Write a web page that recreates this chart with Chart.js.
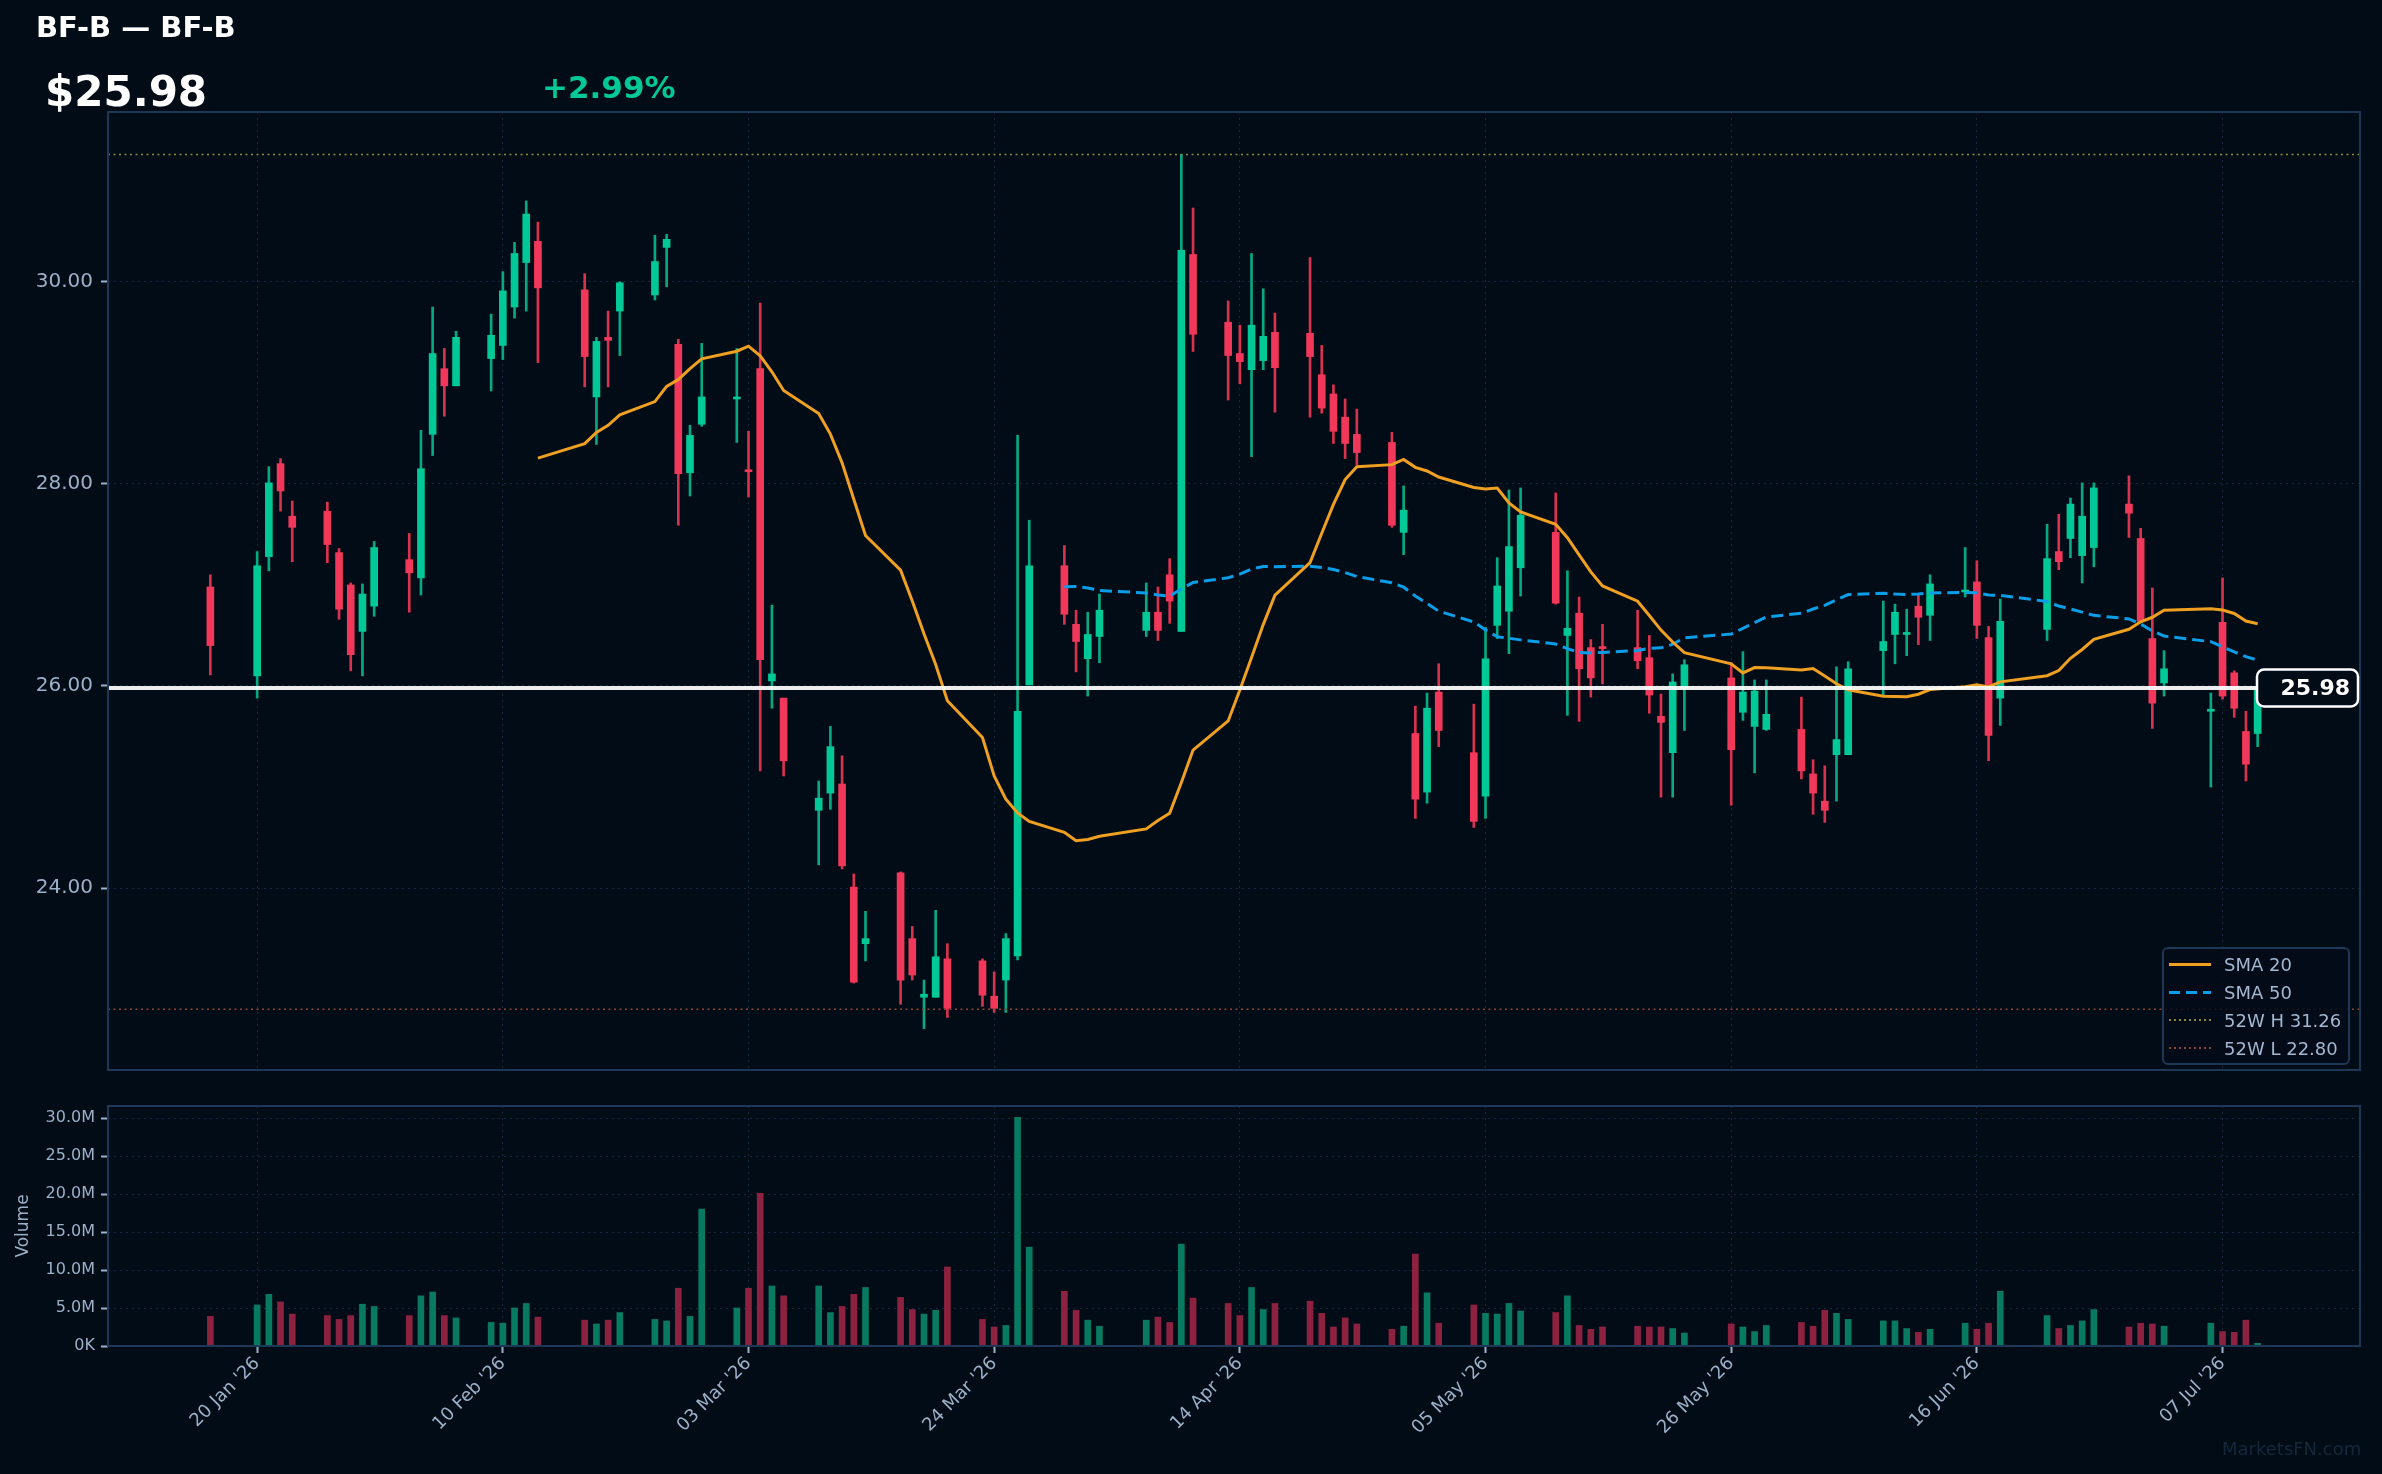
<!DOCTYPE html>
<html>
<head>
<meta charset="utf-8">
<script src="https://cdn.jsdelivr.net/npm/chart.js@4.4.1/dist/chart.umd.min.js"></script>
<style>
  html, body { margin: 0; padding: 0; background: #020c17; }
  #wrap { position: relative; width: 2382px; height: 1474px; overflow: hidden; background: #020c17; font-family: 'DejaVu Sans', sans-serif; }
  canvas { position: absolute; left: 0; }
  #priceCanvas { top: 0; }
  #volCanvas { top: 1090px; }
  .txt { position: absolute; white-space: nowrap; line-height: 1; font-weight: bold; }
  #title { left: 36px; top: 13px; font-size: 29px; color: #ffffff; }
  #price { left: 45px; top: 71px; font-size: 42px; color: #ffffff; }
  #change { left: 542px; top: 72px; font-size: 31px; color: #00c896; }
  #legend { position: absolute; left: 2162px; top: 947px; width: 188px; height: 118px; border: 2px solid #1d3856; border-radius: 6px; background: rgba(2, 12, 23, 0.85); box-sizing: border-box; padding-top: 1px; }
  .row { height: 28px; display: flex; align-items: center; font-size: 18px; color: #a3b7d0; }
  .sw { width: 42px; margin-left: 5px; margin-right: 13px; }
  #watermark { position: absolute; left: 2222px; top: 1440px; font-size: 18px; color: #17283a; line-height: 1; }
</style>
</head>
<body>
<div id="wrap">
  <canvas id="priceCanvas" width="2382" height="1090"></canvas>
  <canvas id="volCanvas" width="2382" height="384"></canvas>
  <div class="txt" id="title">BF-B — BF-B</div>
  <div class="txt" id="price">$25.98</div>
  <div class="txt" id="change">+2.99%</div>
  <div id="legend">
    <div class="row"><span class="sw" style="height:3px;background:#f0a020"></span>SMA 20</div>
    <div class="row"><span class="sw" style="height:3px;background:repeating-linear-gradient(90deg,#0a9ee8 0 11px,transparent 11px 17px)"></span>SMA 50</div>
    <div class="row"><span class="sw" style="height:2px;background:repeating-linear-gradient(90deg,#8c8a35 0 2px,transparent 2px 5px)"></span>52W H 31.26</div>
    <div class="row"><span class="sw" style="height:2px;background:repeating-linear-gradient(90deg,#8e4535 0 2px,transparent 2px 5px)"></span>52W L 22.80</div>
  </div>
  <div id="watermark">MarketsFN.com</div>
</div>
<script>
// trading days
const dates = [
  '2026-01-16','2026-01-20','2026-01-21','2026-01-22','2026-01-23',
  '2026-01-26','2026-01-27','2026-01-28','2026-01-29','2026-01-30',
  '2026-02-02','2026-02-03','2026-02-04','2026-02-05','2026-02-06',
  '2026-02-09','2026-02-10','2026-02-11','2026-02-12','2026-02-13',
  '2026-02-17','2026-02-18','2026-02-19','2026-02-20',
  '2026-02-23','2026-02-24','2026-02-25','2026-02-26','2026-02-27',
  '2026-03-02','2026-03-03','2026-03-04','2026-03-05','2026-03-06',
  '2026-03-09','2026-03-10','2026-03-11','2026-03-12','2026-03-13',
  '2026-03-16','2026-03-17','2026-03-18','2026-03-19','2026-03-20',
  '2026-03-23','2026-03-24','2026-03-25','2026-03-26','2026-03-27',
  '2026-03-30','2026-03-31','2026-04-01','2026-04-02',
  '2026-04-06','2026-04-07','2026-04-08','2026-04-09','2026-04-10',
  '2026-04-13','2026-04-14','2026-04-15','2026-04-16','2026-04-17',
  '2026-04-20','2026-04-21','2026-04-22','2026-04-23','2026-04-24',
  '2026-04-27','2026-04-28','2026-04-29','2026-04-30','2026-05-01',
  '2026-05-04','2026-05-05','2026-05-06','2026-05-07','2026-05-08',
  '2026-05-11','2026-05-12','2026-05-13','2026-05-14','2026-05-15',
  '2026-05-18','2026-05-19','2026-05-20','2026-05-21','2026-05-22',
  '2026-05-26','2026-05-27','2026-05-28','2026-05-29',
  '2026-06-01','2026-06-02','2026-06-03','2026-06-04','2026-06-05',
  '2026-06-08','2026-06-09','2026-06-10','2026-06-11','2026-06-12',
  '2026-06-15','2026-06-16','2026-06-17','2026-06-18',
  '2026-06-22','2026-06-23','2026-06-24','2026-06-25','2026-06-26',
  '2026-06-29','2026-06-30','2026-07-01','2026-07-02',
  '2026-07-06','2026-07-07','2026-07-08','2026-07-09','2026-07-10'
];

const opens = [
  26.98, 26.10, 27.28, 28.20, 27.68,
  27.73, 27.32, 27.00, 26.54, 26.79,
  27.25, 27.07, 28.49, 29.14, 28.97,
  29.24, 29.37, 29.75, 30.19, 30.40,
  29.92, 28.86, 29.45, 29.71,
  29.87, 30.34, 29.38, 28.11, 28.59,
  28.84, 28.14, 29.14, 26.05, 25.88,
  24.77, 24.94, 25.03, 24.01, 23.45,
  24.15, 23.50, 22.92, 22.92, 23.30,
  23.28, 22.93, 23.09, 23.33, 26.01,
  27.19, 26.61, 26.27, 26.49,
  26.55, 26.73, 27.10, 26.54, 30.27,
  29.60, 29.29, 29.13, 29.22, 29.50,
  29.49, 29.08, 28.89, 28.66, 28.49,
  28.41, 27.52, 25.53, 24.95, 25.94,
  25.34, 24.91, 26.60, 26.74, 27.17,
  27.52, 26.50, 26.72, 26.38, 26.39,
  26.38, 26.28, 25.70, 25.34, 25.98,
  26.08, 25.74, 25.60, 25.57,
  25.57, 25.13, 24.86, 25.32, 25.32,
  26.35, 26.51, 26.51, 26.79, 26.70,
  26.93, 27.03, 26.48, 25.88,
  26.56, 27.33, 27.46, 27.29, 27.37,
  27.80, 27.46, 26.47, 26.03,
  25.75, 26.63, 26.13, 25.55, 25.53
];

const highs = [
  27.10, 27.33, 28.17, 28.25, 27.83,
  27.82, 27.36, 27.02, 27.01, 27.43,
  27.51, 28.53, 29.75, 29.34, 29.51,
  29.68, 30.10, 30.39, 30.80, 30.59,
  30.08, 29.45, 29.71, 30.00,
  30.46, 30.47, 29.43, 28.58, 29.39,
  29.34, 28.52, 29.79, 26.80, 25.88,
  25.06, 25.60, 25.31, 24.14, 23.77,
  24.16, 23.62, 23.09, 23.78, 23.45,
  23.30, 23.17, 23.55, 28.48, 27.64,
  27.39, 26.75, 26.73, 26.91,
  27.02, 26.98, 27.26, 31.26, 30.73,
  29.81, 29.57, 30.28, 29.93, 29.69,
  30.24, 29.37, 28.98, 28.84, 28.74,
  28.51, 27.98, 25.80, 25.93, 26.22,
  25.82, 26.58, 27.27, 27.94, 27.96,
  27.91, 27.14, 26.88, 26.46, 26.61,
  26.75, 26.50, 25.92, 26.12, 26.26,
  26.23, 26.34, 26.06, 26.06,
  25.89, 25.27, 25.21, 26.19, 26.24,
  26.84, 26.81, 26.76, 26.90, 27.10,
  27.37, 27.24, 26.59, 26.86,
  27.60, 27.70, 27.86, 28.01, 28.01,
  28.08, 27.56, 26.97, 26.35,
  25.93, 27.07, 26.15, 25.75, 26.04
];

const lows = [
  26.11, 25.88, 27.14, 27.73, 27.23,
  27.22, 26.66, 26.15, 26.10, 26.69,
  26.73, 26.90, 28.28, 28.67, 28.97,
  28.92, 29.23, 29.64, 29.71, 29.20,
  28.96, 28.39, 28.96, 29.27,
  29.82, 29.95, 27.59, 27.88, 28.57,
  28.41, 27.87, 25.16, 25.78, 25.11,
  24.23, 24.78, 24.19, 23.06, 23.28,
  22.85, 23.09, 22.61, 22.92, 22.72,
  22.83, 22.77, 22.77, 23.29, 26.01,
  26.61, 26.14, 25.90, 26.23,
  26.49, 26.45, 26.62, 26.54, 29.31,
  28.83, 28.99, 28.27, 29.13, 28.71,
  28.66, 28.70, 28.40, 28.25, 28.19,
  27.57, 27.30, 24.69, 24.84, 25.40,
  24.60, 24.69, 26.47, 26.32, 26.89,
  26.81, 25.71, 25.65, 25.89, 26.02,
  26.17, 25.73, 24.90, 24.90, 25.56,
  24.82, 25.66, 25.14, 25.56,
  25.08, 24.73, 24.65, 24.86, 25.32,
  25.91, 26.22, 26.30, 26.41, 26.45,
  26.88, 26.47, 25.26, 25.61,
  26.45, 27.15, 27.27, 27.02, 27.18,
  27.47, 26.64, 25.58, 25.90,
  25.00, 25.87, 25.69, 25.06, 25.40
];

const closes = [
  26.40, 27.19, 28.01, 27.93, 27.57,
  27.40, 26.76, 26.31, 26.91, 27.37,
  27.12, 28.15, 29.29, 28.97, 29.45,
  29.47, 29.91, 30.28, 30.67, 29.94,
  29.26, 29.41, 29.42, 29.99,
  30.20, 30.42, 28.10, 28.48, 28.86,
  28.86, 28.12, 26.26, 26.12, 25.26,
  24.89, 25.40, 24.22, 23.07, 23.50,
  23.09, 23.14, 22.95, 23.32, 22.81,
  22.94, 22.81, 23.50, 25.75, 27.19,
  26.71, 26.44, 26.51, 26.75,
  26.73, 26.55, 26.84, 30.31, 29.48,
  29.27, 29.21, 29.57, 29.46, 29.15,
  29.26, 28.75, 28.52, 28.40, 28.31,
  27.59, 27.74, 24.88, 25.78, 25.56,
  24.66, 26.27, 26.99, 27.38, 27.69,
  26.82, 26.57, 26.17, 26.08, 26.37,
  26.25, 25.91, 25.64, 26.04, 26.21,
  25.37, 25.94, 25.95, 25.72,
  25.16, 24.94, 24.77, 25.47, 26.17,
  26.44, 26.73, 26.53, 26.68, 27.01,
  26.94, 26.60, 25.51, 26.64,
  27.26, 27.23, 27.80, 27.68, 27.96,
  27.71, 26.64, 25.83, 26.17,
  25.76, 25.90, 25.78, 25.226, 25.98
];

// volume in millions of shares
const volumes = [
  3.9, 5.4, 6.8, 5.8, 4.2,
  4.0, 3.5, 4.0, 5.5, 5.2,
  4.0, 6.6, 7.1, 4.0, 3.7,
  3.1, 3.0, 5.0, 5.6, 3.8,
  3.4, 2.9, 3.4, 4.4,
  3.5, 3.3, 7.6, 3.9, 18.0,
  5.0, 7.6, 20.1, 7.9, 6.6,
  7.9, 4.4, 5.2, 6.8, 7.7,
  6.4, 4.8, 4.2, 4.7, 10.4,
  3.5, 2.5, 2.7, 30.08, 13.0,
  7.2, 4.7, 3.4, 2.6,
  3.4, 3.8, 3.1, 13.4, 6.3,
  5.6, 4.0, 7.7, 4.8, 5.6,
  5.9, 4.3, 2.5, 3.7, 2.9,
  2.2, 2.6, 12.1, 7.0, 3.0,
  5.4, 4.3, 4.2, 5.6, 4.6,
  4.4, 6.6, 2.7, 2.2, 2.5,
  2.6, 2.5, 2.5, 2.3, 1.7,
  2.9, 2.5, 1.9, 2.7,
  3.1, 2.6, 4.7, 4.3, 3.5,
  3.3, 3.3, 2.3, 1.8, 2.2,
  3.0, 2.2, 3.0, 7.2,
  4.0, 2.3, 2.7, 3.3, 4.8,
  2.5, 3.0, 2.9, 2.6,
  3.0, 1.9, 1.8, 3.4, 0.35
];

const tickDates = ['2026-01-20', '2026-02-10', '2026-03-03', '2026-03-24', '2026-04-14', '2026-05-05', '2026-05-26', '2026-06-16', '2026-07-07'];
const tickLabels = ["20 Jan '26", "10 Feb '26", "03 Mar '26", "24 Mar '26", "14 Apr '26", "05 May '26", "26 May '26", "16 Jun '26", "07 Jul '26"];
const priceTicks = [24, 26, 28, 30];
const volumeTicks = [0, 5, 10, 15, 20, 25, 30];
const high52 = 31.26;
const low52 = 22.80;

const UP = '#00c896', DOWN = '#f2385a';
const UP_WICK = '#06a982', DOWN_WICK = '#d9324f';
const VOL_UP = '#077a5f', VOL_DOWN = '#8c2240';
const GRID = 'rgba(60, 95, 135, 0.35)';
const TICK = '#9cb0c8';

Chart.defaults.font.family = "'DejaVu Sans', sans-serif";
Chart.defaults.color = TICK;

// calendar day offset from 20 Jan 2026
function dayNum(s) {
  const p = s.split('-').map(Number);
  return (Date.UTC(p[0], p[1] - 1, p[2]) - Date.UTC(2026, 0, 20)) / 86400000;
}

const xs = dates.map(dayNum);
const span = xs[xs.length - 1] - xs[0];
const xMin = xs[0] - span * 0.05;
const xMax = xs[xs.length - 1] + span * 0.05;
const tickXs = tickDates.map(dayNum);
const lastClose = closes[closes.length - 1];
const isUp = closes.map((c, i) => c >= opens[i]);

function sma(n) {
  const out = [];
  for (let i = n - 1; i < closes.length; i++) {
    let s = 0;
    for (let j = i - n + 1; j <= i; j++) s += closes[j];
    out.push({ x: xs[i], y: s / n });
  }
  return out;
}

// frame round the plot area
const frame = {
  id: 'frame',
  afterDraw(chart) {
    const { ctx, chartArea: a } = chart;
    ctx.save();
    ctx.strokeStyle = '#1d3856';
    ctx.lineWidth = 2;
    ctx.strokeRect(a.left, a.top, a.right - a.left, a.bottom - a.top);
    ctx.restore();
  }
};

// last price tag on the right edge
const lastTag = {
  id: 'lastTag',
  afterDraw(chart) {
    const { ctx, chartArea: a, scales } = chart;
    const y = scales.y.getPixelForValue(lastClose);
    const w = 101, h = 37, x = a.right - w - 2;
    ctx.save();
    ctx.beginPath();
    ctx.roundRect(x, y - h / 2, w, h, 7);
    ctx.fillStyle = '#020c17';
    ctx.fill();
    ctx.lineWidth = 2.5;
    ctx.strokeStyle = '#ffffff';
    ctx.stroke();
    ctx.fillStyle = '#ffffff';
    ctx.font = "bold 22px 'DejaVu Sans'";
    ctx.textAlign = 'right';
    ctx.textBaseline = 'middle';
    ctx.fillText(lastClose.toFixed(2), x + w - 8, y + 1);
    ctx.restore();
  }
};

function xAxis(showLabels) {
  return {
    type: 'linear',
    min: xMin,
    max: xMax,
    offset: false,
    afterBuildTicks: s => { s.ticks = tickXs.map(v => ({ value: v })); },
    afterFit: showLabels ? (s => { s.height = 128; }) : (s => { s.height = 0; }),
    ticks: {
      display: showLabels,
      autoSkip: false,
      maxRotation: 45,
      minRotation: 45,
      padding: 0,
      font: { size: 18 },
      color: TICK,
      callback: (v, i) => tickLabels[i]
    },
    grid: {
      offset: false,
      color: GRID,
      lineWidth: 1,
      drawTicks: showLabels,
      tickLength: 7,
      tickColor: TICK,
      tickWidth: 2
    },
    border: { display: false, dash: [2, 4] }
  };
}

new Chart(document.getElementById('priceCanvas'), {
  type: 'bar',
  data: {
    datasets: [
      {
        label: 'wicks',
        data: xs.map((x, i) => ({ x: x, y: [lows[i], highs[i]] })),
        backgroundColor: isUp.map(u => u ? UP_WICK : DOWN_WICK),
        barThickness: 2,
        grouped: false,
        order: 5
      },
      {
        label: 'bodies',
        data: xs.map((x, i) => ({ x: x, y: [opens[i], closes[i]] })),
        backgroundColor: isUp.map(u => u ? UP : DOWN),
        barThickness: 7,
        minBarLength: 2,
        grouped: false,
        order: 4
      },
      {
        type: 'line',
        label: '52W H 31.26',
        data: [{ x: xMin, y: high52 }, { x: xMax, y: high52 }],
        borderColor: '#8c8a35',
        borderWidth: 1.5,
        borderDash: [2, 3.5],
        pointRadius: 0,
        order: 3
      },
      {
        type: 'line',
        label: '52W L 22.80',
        data: [{ x: xMin, y: low52 }, { x: xMax, y: low52 }],
        borderColor: '#8e4535',
        borderWidth: 1.5,
        borderDash: [2, 3.5],
        pointRadius: 0,
        order: 3
      },
      {
        type: 'line',
        label: 'SMA 50',
        data: sma(50),
        borderColor: '#0a9ee8',
        borderWidth: 3,
        borderDash: [12, 6],
        pointRadius: 0,
        tension: 0,
        order: 2
      },
      {
        type: 'line',
        label: 'SMA 20',
        data: sma(20),
        borderColor: '#f0a020',
        borderWidth: 3,
        pointRadius: 0,
        tension: 0,
        order: 1
      },
      {
        type: 'line',
        label: 'last',
        data: [{ x: xMin, y: lastClose }, { x: xMax, y: lastClose }],
        borderColor: 'rgba(255,255,255,0.93)',
        borderWidth: 4,
        pointRadius: 0,
        order: 0
      }
    ]
  },
  options: {
    responsive: false,
    animation: false,
    devicePixelRatio: 1,
    layout: { padding: { left: 0, right: 22, top: 112, bottom: 16 } },
    plugins: { legend: { display: false }, tooltip: { enabled: false } },
    scales: {
      x: xAxis(false),
      y: {
        min: 22.2,
        max: 31.68,
        afterBuildTicks: s => { s.ticks = priceTicks.map(v => ({ value: v })); },
        afterFit: s => { s.width = 108; },
        ticks: { padding: 8, font: { size: 20 }, color: TICK, callback: v => v.toFixed(2) },
        grid: { color: GRID, lineWidth: 1, drawTicks: true, tickLength: 7, tickColor: TICK, tickWidth: 2 },
        border: { display: false, dash: [2, 4] }
      }
    }
  },
  plugins: [frame, lastTag]
});

new Chart(document.getElementById('volCanvas'), {
  type: 'bar',
  data: {
    datasets: [{
      label: 'Volume',
      data: xs.map((x, i) => ({ x: x, y: volumes[i] })),
      backgroundColor: isUp.map(u => u ? VOL_UP : VOL_DOWN),
      barThickness: 6,
      grouped: false
    }]
  },
  options: {
    responsive: false,
    animation: false,
    devicePixelRatio: 1,
    layout: { padding: { left: 0, right: 22, top: 16, bottom: 0 } },
    plugins: { legend: { display: false }, tooltip: { enabled: false } },
    scales: {
      x: xAxis(true),
      y: {
        min: 0,
        max: 31.58,
        afterBuildTicks: s => { s.ticks = volumeTicks.map(v => ({ value: v })); },
        afterFit: s => { s.width = 108; },
        title: { display: true, text: 'Volume', color: TICK, font: { size: 17 }, padding: { top: 13, bottom: 0 } },
        ticks: { padding: 6, font: { size: 16 }, color: TICK, callback: v => v === 0 ? '0K' : v.toFixed(1) + 'M' },
        grid: { color: GRID, lineWidth: 1, drawTicks: true, tickLength: 7, tickColor: TICK, tickWidth: 2 },
        border: { display: false, dash: [2, 4] }
      }
    }
  },
  plugins: [frame]
});
</script>
</body>
</html>
